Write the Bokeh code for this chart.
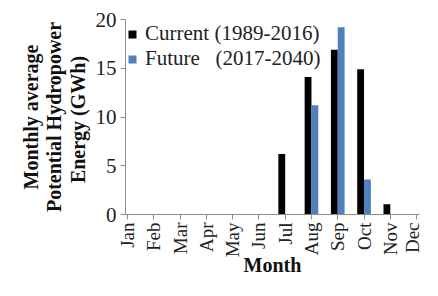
import math
from bokeh.plotting import figure
from bokeh.models import ColumnDataSource, Range1d, FixedTicker, Legend, LegendItem
from bokeh.transform import dodge
from bokeh.embed import file_html
from bokeh.resources import INLINE

months = ["Jan", "Feb", "Mar", "Apr", "May", "Jun", "Jul", "Aug", "Sep", "Oct", "Nov", "Dec"]
current = [0, 0, 0, 0, 0, 0, 6.2, 14.1, 16.9, 14.9, 1.05, 0]
future = [0, 0, 0, 0, 0, 0, 0, 11.2, 19.2, 3.6, 0, 0]
y_ticks = [0, 5, 10, 15, 20]

idx = list(range(len(months)))
src = ColumnDataSource(dict(x=idx, current=current, future=future))

FONT = "Liberation Serif"

p = figure(width=422, height=280, output_backend="svg", toolbar_location=None,
           x_range=Range1d(-0.075, 11.11), y_range=Range1d(0, 20))
p.min_border_left = 125
p.min_border_right = 3
p.min_border_top = 19
p.min_border_bottom = 66
p.outline_line_color = None
p.grid.visible = False
p.background_fill_color = "white"
p.border_fill_color = "white"

r1 = p.vbar(x=dodge("x", -0.13, range=p.x_range), top="current", width=0.26, source=src,
            fill_color="black", line_color=None)
r2 = p.vbar(x=dodge("x", 0.13, range=p.x_range), top="future", width=0.26, source=src,
            fill_color="#4F81BD", line_color=None)

xa = p.xaxis[0]
xa.ticker = FixedTicker(ticks=idx)
xa.major_label_overrides = {i: m for i, m in zip(idx, months)}
xa.major_label_orientation = math.pi / 2
xa.major_label_text_font = FONT
xa.major_label_text_font_size = "19px"
xa.major_label_text_color = "#222222"
xa.major_tick_in = 0
xa.major_tick_out = 5
xa.minor_tick_line_color = None
xa.axis_line_color = "#8c8c8c"
xa.major_tick_line_color = "#8c8c8c"
xa.axis_label = "Month"
xa.axis_label_text_font = FONT
xa.axis_label_text_font_style = "bold"
xa.axis_label_text_font_size = "20px"
xa.axis_label_text_color = "#111111"
xa.axis_label_standoff = -6
xa.major_label_standoff = 3

ya = p.yaxis[0]
ya.ticker = FixedTicker(ticks=y_ticks)
ya.major_label_text_font = FONT
ya.major_label_text_font_size = "21px"
ya.major_label_text_color = "#222222"
ya.major_tick_in = 0
ya.major_tick_out = 5
ya.minor_tick_line_color = None
ya.axis_line_color = "#8c8c8c"
ya.major_tick_line_color = "#8c8c8c"
ya.major_label_standoff = 4
ya.axis_label = "Monthly average\nPotential Hydropower\nEnergy  (GWh)"
ya.axis_label_text_font = FONT
ya.axis_label_text_font_style = "bold"
ya.axis_label_text_font_size = "20px"
ya.axis_label_text_color = "#111111"
ya.axis_label_standoff = 4
ya.axis_label_text_line_height = 1.05

legend = Legend(items=[
    LegendItem(label="Current (1989-2016)", renderers=[r1]),
    LegendItem(label="Future\u00a0\u00a0\u00a0(2017-2040)", renderers=[r2]),
])
legend.background_fill_alpha = 0
legend.border_line_color = None
legend.label_text_font = FONT
legend.label_text_font_size = "21px"
legend.label_text_color = "#222222"
legend.glyph_width = 10
legend.glyph_height = 10
legend.spacing = 0
legend.padding = 0
legend.margin = 0
legend.label_standoff = 8
legend.label_height = 24
p.add_layout(legend, "center")
p.legend.location = (2, 143)

open("out.html", "w").write(file_html(p, INLINE))
